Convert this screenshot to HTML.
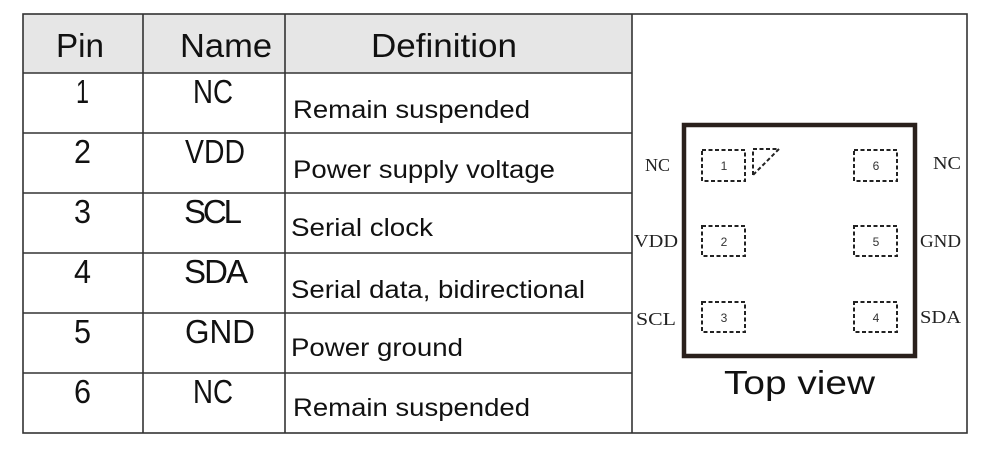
<!DOCTYPE html>
<html><head><meta charset="utf-8"><style>
html,body{margin:0;padding:0;background:#fff;width:986px;height:454px;overflow:hidden}
svg{display:block}
.h{font-family:"Liberation Sans",sans-serif;font-size:33px;fill:#111}
.n{font-family:"Liberation Sans",sans-serif;font-size:33px;fill:#111}
.d{font-family:"Liberation Sans",sans-serif;font-size:25px;fill:#111}
.s{font-family:"Liberation Serif",serif;font-size:18px;fill:#222}
.p{font-family:"Liberation Sans",sans-serif;font-size:12px;fill:#333}
</style></head><body>
<svg width="986" height="454" viewBox="0 0 986 454">
<rect x="23" y="14" width="609" height="59" fill="#e6e6e6"/>
<g stroke="#333" stroke-width="1.6" fill="none">
<rect x="23" y="14" width="944" height="419"/>
<line x1="143" y1="14" x2="143" y2="433"/>
<line x1="285" y1="14" x2="285" y2="433"/>
<line x1="632" y1="14" x2="632" y2="433"/>
<line x1="23" y1="73" x2="632" y2="73"/>
<line x1="23" y1="133" x2="632" y2="133"/>
<line x1="23" y1="193" x2="632" y2="193"/>
<line x1="23" y1="253" x2="632" y2="253"/>
<line x1="23" y1="313" x2="632" y2="313"/>
<line x1="23" y1="373" x2="632" y2="373"/>
</g>
<g lengthAdjust="spacingAndGlyphs">
<text class="h" x="56" y="57" textLength="48" lengthAdjust="spacingAndGlyphs">Pin</text>
<text class="h" x="180" y="57" textLength="92" lengthAdjust="spacingAndGlyphs">Name</text>
<text class="h" x="371" y="57" textLength="146" lengthAdjust="spacingAndGlyphs">Definition</text>
</g>
<g class="n">
<text x="76" y="103" textLength="13" lengthAdjust="spacingAndGlyphs">1</text>
<text x="74" y="163" textLength="17" lengthAdjust="spacingAndGlyphs">2</text>
<text x="74" y="223" textLength="17" lengthAdjust="spacingAndGlyphs">3</text>
<text x="74" y="283" textLength="17" lengthAdjust="spacingAndGlyphs">4</text>
<text x="74" y="343" textLength="17" lengthAdjust="spacingAndGlyphs">5</text>
<text x="74" y="403" textLength="17" lengthAdjust="spacingAndGlyphs">6</text>
</g>
<text class="n" x="193" y="103" textLength="40" lengthAdjust="spacingAndGlyphs">NC</text>
<text class="n" x="185" y="163" textLength="60" lengthAdjust="spacingAndGlyphs">VDD</text>
<text class="n" x="184" y="223" textLength="58">SCL</text>
<text class="n" x="184" y="283" textLength="64">SDA</text>
<text class="n" x="185" y="343" textLength="70" lengthAdjust="spacingAndGlyphs">GND</text>
<text class="n" x="193" y="403" textLength="40" lengthAdjust="spacingAndGlyphs">NC</text>
<text class="d" x="293" y="118" textLength="237" lengthAdjust="spacingAndGlyphs">Remain suspended</text>
<text class="d" x="293" y="178" textLength="262" lengthAdjust="spacingAndGlyphs">Power supply voltage</text>
<text class="d" x="291" y="236" textLength="142" lengthAdjust="spacingAndGlyphs">Serial clock</text>
<text class="d" x="291" y="298" textLength="294" lengthAdjust="spacingAndGlyphs">Serial data, bidirectional</text>
<text class="d" x="291" y="356" textLength="172" lengthAdjust="spacingAndGlyphs">Power ground</text>
<text class="d" x="293" y="416" textLength="237" lengthAdjust="spacingAndGlyphs">Remain suspended</text>
<rect x="684" y="125" width="231" height="231" fill="none" stroke="#2a201c" stroke-width="4.5"/>
<g fill="none" stroke="#222" stroke-width="2" stroke-dasharray="4,2.5">
<rect x="702" y="150" width="43" height="31"/>
<rect x="854" y="150" width="43" height="31"/>
<rect x="702" y="226" width="43" height="30"/>
<rect x="854" y="226" width="43" height="30"/>
<rect x="702" y="302" width="43" height="30"/>
<rect x="854" y="302" width="43" height="30"/>
<polyline points="753,175 753,149 779,149 753,175"/>
</g>
<g class="p" text-anchor="middle">
<text x="724" y="170">1</text><text x="876" y="170">6</text>
<text x="724" y="246">2</text><text x="876" y="246">5</text>
<text x="724" y="322">3</text><text x="876" y="322">4</text>
</g>
<text class="s" x="645" y="171" textLength="25" lengthAdjust="spacingAndGlyphs">NC</text>
<text class="s" x="634" y="247" textLength="44" lengthAdjust="spacingAndGlyphs">VDD</text>
<text class="s" x="636" y="325" textLength="40" lengthAdjust="spacingAndGlyphs">SCL</text>
<text class="s" x="933" y="169" textLength="28" lengthAdjust="spacingAndGlyphs">NC</text>
<text class="s" x="920" y="247" textLength="41" lengthAdjust="spacingAndGlyphs">GND</text>
<text class="s" x="920" y="323" textLength="41" lengthAdjust="spacingAndGlyphs">SDA</text>
<text class="h" x="724" y="394" textLength="151" lengthAdjust="spacingAndGlyphs" style="font-size:33px">Top view</text>
</svg>
</body></html>
